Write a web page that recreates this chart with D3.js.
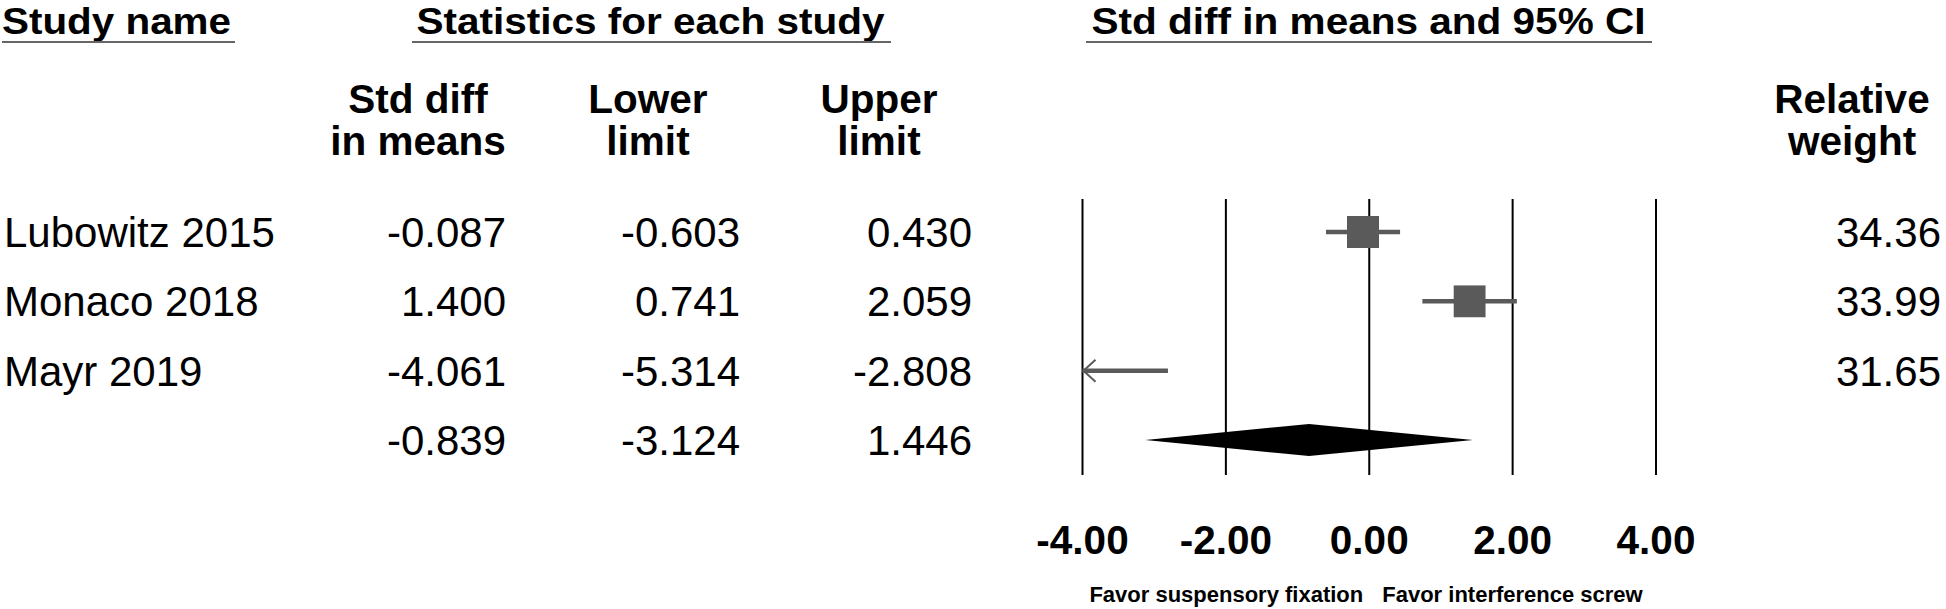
<!DOCTYPE html>
<html>
<head>
<meta charset="utf-8">
<script src="https://cdn.jsdelivr.net/npm/d3@7"></script>
<style>
  html, body { margin: 0; padding: 0; background: #fff; }
  svg { display: block; font-family: "Liberation Sans", Arial, sans-serif; }
</style>
</head>
<body>
<svg id="chart" width="1946" height="609"></svg>
<script>
// ---- data ----
const studies = ["Lubowitz 2015", "Monaco 2018", "Mayr 2019"];
const stdDiff = [-0.087, 1.400, -4.061];
const lowerLimit = [-0.603, 0.741, -5.314];
const upperLimit = [0.430, 2.059, -2.808];
const relWeight = [34.36, 33.99, 31.65];
const pooled = [-0.839, -3.124, 1.446]; // std diff, lower, upper
const tickValues = [-4, -2, 0, 2, 4];
const sectionTitles = ["Study name", "Statistics for each study", "Std diff in means and 95% CI"];
const colHeaders = [["Std diff", "in means"], ["Lower", "limit"], ["Upper", "limit"]];
const weightHeader = ["Relative", "weight"];
const favorLabels = ["Favor suspensory fixation", "Favor interference screw"];

// ---- setup ----
const svg = d3.select("#chart");
const loc = d3.formatLocale({decimal: ".", thousands: ",", grouping: [3], currency: ["", ""], minus: "-"});
const f3 = loc.format(".3f"), f2 = loc.format(".2f");

const x = d3.scaleLinear().domain([-4, 4]).range([1082.5, 1656]);
const y = d3.scaleLinear().domain([0, 3]).range([232, 440]);
const markColor = "#5a5a5a";
const bodySize = 42, headSize = 40.5;

// ---- section titles with underlines ----
const titleLayout = [
  {x: 2, anchor: "start", w: 229, u0: 2, u1: 235},
  {x: 650.5, anchor: "middle", w: 468, u0: 412, u1: 891},
  {x: 1368.5, anchor: "middle", w: 554, u0: 1086, u1: 1652}
];
sectionTitles.forEach((t, i) => {
  const L = titleLayout[i];
  svg.append("text").attr("x", L.x).attr("y", 33.5).attr("text-anchor", L.anchor)
    .attr("font-size", 37).attr("font-weight", "bold").attr("fill", "#000")
    .attr("textLength", L.w).attr("lengthAdjust", "spacingAndGlyphs").text(t);
  svg.append("line").attr("x1", L.u0).attr("x2", L.u1).attr("y1", 42).attr("y2", 42)
    .attr("stroke", "#666").attr("stroke-width", 2);
});

// ---- column headers ----
const headerCenters = [418, 648, 879];
colHeaders.forEach((lines, i) => {
  lines.forEach((s, j) => {
    svg.append("text").attr("x", headerCenters[i]).attr("y", 113 + j * 42)
      .attr("text-anchor", "middle").attr("font-size", headSize).attr("font-weight", "bold").text(s);
  });
});
weightHeader.forEach((s, j) => {
  svg.append("text").attr("x", 1852).attr("y", 113 + j * 42)
    .attr("text-anchor", "middle").attr("font-size", headSize).attr("font-weight", "bold").text(s);
});

// ---- body rows ----
const numRight = [506, 740, 972];
const rows = studies.map((s, i) => ({name: s, es: stdDiff[i], lo: lowerLimit[i], hi: upperLimit[i], w: relWeight[i], i}));

const textBase = d => y(d.i) + 15;
rows.forEach(d => {
  svg.append("text").attr("x", 4).attr("y", textBase(d)).attr("font-size", bodySize).text(d.name);
  [d.es, d.lo, d.hi].forEach((v, k) => {
    svg.append("text").attr("x", numRight[k]).attr("y", textBase(d)).attr("text-anchor", "end")
      .attr("font-size", bodySize).text(f3(v));
  });
  svg.append("text").attr("x", 1941).attr("y", textBase(d)).attr("text-anchor", "end")
    .attr("font-size", bodySize).text(f2(d.w));
});
// pooled row numbers
pooled.forEach((v, k) => {
  svg.append("text").attr("x", numRight[k]).attr("y", y(3) + 15).attr("text-anchor", "end")
    .attr("font-size", bodySize).text(f3(v));
});

// ---- reference lines ----
svg.append("g").selectAll("line").data(tickValues).join("line")
  .attr("x1", d => x(d)).attr("x2", d => x(d)).attr("y1", 199).attr("y2", 475)
  .attr("stroke", "#000").attr("stroke-width", 2);

// ---- CI lines ----
const xc = x.copy().clamp(true);
const plot = svg.append("g");
rows.forEach(d => {
  plot.append("line").attr("x1", xc(d.lo)).attr("x2", xc(d.hi)).attr("y1", y(d.i)).attr("y2", y(d.i))
    .attr("stroke", markColor).attr("stroke-width", 4.5);
  if (d.lo < x.domain()[0]) {
    const x0 = x(x.domain()[0]);
    plot.append("path")
      .attr("d", `M${x0 + 13},${y(d.i) - 11} L${x0 + 1},${y(d.i)} L${x0 + 13},${y(d.i) + 11}`)
      .attr("fill", "none").attr("stroke", markColor).attr("stroke-width", 2);
  }
});
// squares (only if point estimate within range)
const maxW = d3.max(relWeight);
const size = d3.scaleSqrt().domain([0, maxW]).range([0, 32]);
plot.selectAll("rect.sq").data(rows.filter(d => d.es >= x.domain()[0] && d.es <= x.domain()[1]))
  .join("rect").attr("class", "sq")
  .attr("x", d => x(d.es) - size(d.w) / 2).attr("y", d => y(d.i) - size(d.w) / 2)
  .attr("width", d => size(d.w)).attr("height", d => size(d.w))
  .attr("fill", markColor);

// ---- pooled diamond ----
const yp = y(3);
plot.append("path")
  .attr("d", `M${x(pooled[1])},${yp} L${x(pooled[0])},${yp - 16} L${x(pooled[2])},${yp} L${x(pooled[0])},${yp + 16} Z`)
  .attr("fill", "#000");

// ---- axis tick labels ----
svg.append("g").selectAll("text").data(tickValues).join("text")
  .attr("x", d => x(d)).attr("y", 554).attr("text-anchor", "middle")
  .attr("font-size", headSize).attr("font-weight", "bold").text(d => f2(d));

// ---- favor labels ----
svg.append("text").attr("x", x(0) - 6).attr("y", 602).attr("text-anchor", "end")
  .attr("font-size", 22).attr("font-weight", "bold").text(favorLabels[0]);
svg.append("text").attr("x", x(0) + 13).attr("y", 602).attr("text-anchor", "start")
  .attr("font-size", 22).attr("font-weight", "bold").text(favorLabels[1]);
</script>
</body>
</html>
